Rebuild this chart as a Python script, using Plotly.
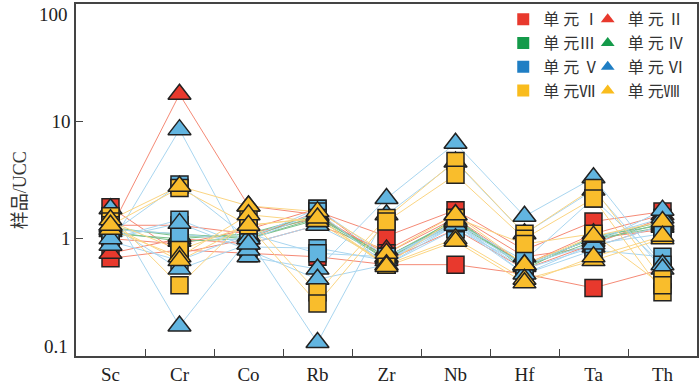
import plotly.graph_objects as go

elements = ['Sc', 'Cr', 'Co', 'Rb', 'Zr', 'Nb', 'Hf', 'Ta', 'Th']
units = ['单 元 Ⅰ', '单 元 Ⅱ', '单 元Ⅲ', '单 元 Ⅳ', '单 元 Ⅴ', '单 元 Ⅵ', '单 元Ⅶ', '单 元Ⅷ']
y_ticks = [0.1, 1, 10, 100]
y_tick_labels = ['0.1', '1', '10', '100']

# sample / UCC, one list per sample, grouped by unit
unit1 = [[1.85, 0.75, 1.0, 1.7, 1.05, 1.75, 0.8, 1.4, 1.7],
         [0.68, 0.8, 0.75, 0.7, 0.6, 0.6, 0.5, 0.38, 0.55],
         [1.3, 1.3, 1.1, 1.5, 0.75, 1.5, 0.6, 1.0, 1.2],
         [1.0, 0.9, 1.2, 1.8, 0.65, 1.2, 0.55, 0.9, 1.5]]
unit2 = [[1.2, 17.0, 1.9, 1.6, 0.7, 1.4, 0.6, 1.1, 1.6],
         [0.75, 1.0, 0.9, 1.3, 0.8, 1.6, 0.7, 0.85, 1.3]]
unit3 = [[1.2, 1.1, 1.0, 1.5, 0.7, 1.4, 0.6, 1.0, 1.4],
         [1.1, 1.0, 1.1, 1.6, 0.65, 1.5, 0.55, 1.05, 1.3]]
unit4 = [[1.25, 1.05, 1.05, 1.55, 0.7, 1.45, 0.58, 0.95, 1.35],
         [1.15, 0.95, 1.0, 1.45, 0.68, 1.35, 0.6, 1.0, 1.25]]
unit5 = [[1.1, 2.9, 1.0, 1.8, 0.7, 1.3, 0.55, 0.85, 1.3],
         [1.0, 1.45, 0.85, 0.83, 0.65, 1.3, 0.5, 0.8, 0.7],
         [1.2, 1.1, 0.95, 1.7, 0.6, 1.2, 0.6, 0.9, 1.1],
         [0.95, 0.65, 1.1, 0.75, 0.7, 1.35, 0.65, 2.2, 0.6]]
unit6 = [[0.88, 8.5, 0.7, 0.55, 2.2, 6.5, 1.55, 3.3, 0.6],
         [1.8, 0.18, 1.0, 0.13, 1.6, 4.5, 1.1, 2.6, 0.55],
         [1.0, 1.35, 0.8, 0.45, 0.6, 1.3, 0.6, 1.0, 1.5],
         [1.3, 0.55, 0.9, 1.3, 0.65, 1.4, 0.5, 0.9, 1.75]]
unit7 = [[1.55, 0.4, 1.5, 0.35, 1.5, 4.6, 1.1, 2.7, 0.45],
         [1.4, 0.8, 1.3, 0.28, 1.4, 3.5, 1.0, 2.2, 0.35],
         [1.3, 2.7, 1.3, 1.5, 0.6, 1.5, 0.9, 1.1, 0.4]]
unit8 = [[1.45, 2.8, 1.9, 1.7, 0.75, 1.6, 0.6, 1.05, 1.4],
         [1.2, 0.7, 1.6, 1.4, 0.6, 1.0, 0.45, 0.65, 1.0],
         [1.3, 0.65, 1.3, 1.5, 0.58, 0.95, 0.42, 0.7, 1.05]]

all_units = [unit1, unit2, unit3, unit4, unit5, unit6, unit7, unit8]
symbols = ['square', 'triangle-up'] * 4
marker_colors = ['#E8392D', '#E8392D', '#1A9A4B', '#1A9A4B',
                 '#62B5E0', '#62B5E0', '#F9BD2C', '#F9BD2C']
legend_colors = ['#E8392D', '#E8392D', '#149A4A', '#149A4A',
                 '#1F7EC4', '#1F7EC4', '#F9BC1D', '#F9BC1D']
line_colors = ['#F58A76', '#F58A76', '#7CC28C', '#7CC28C',
               '#A9D6F0', '#A9D6F0', '#FBD582', '#FBD582']

pos = list(range(len(elements)))

fig = go.Figure()

# thin lines first so every marker sits on top
for i, unit in enumerate(all_units):
    for sample in unit:
        fig.add_trace(go.Scatter(x=pos, y=sample, mode='lines',
                                 line=dict(color=line_colors[i], width=1),
                                 showlegend=False, hoverinfo='skip'))

for i, unit in enumerate(all_units):
    xs, ys = [], []
    for sample in unit:
        xs += pos
        ys += sample
    size = 17 if symbols[i] == 'square' else 20
    fig.add_trace(go.Scatter(x=xs, y=ys, mode='markers', showlegend=False,
                             marker=dict(symbol=symbols[i], size=size,
                                         color=marker_colors[i],
                                         line=dict(color='#222', width=1.5))))

# legend entries, two columns
for i, name in enumerate(units):
    fig.add_trace(go.Scatter(x=[None], y=[None], mode='markers', name=name,
                             legend='legend' if i % 2 == 0 else 'legend2',
                             marker=dict(symbol=symbols[i], size=12,
                                         color=legend_colors[i])))

legend_style = dict(xanchor='left', yanchor='top', y=1.005, bgcolor='rgba(0,0,0,0)',
                    font=dict(family='Liberation Serif, Noto Sans CJK SC', size=16, color='#333'),
                    tracegroupgap=0, itemwidth=30)

tick_font = dict(family='Liberation Serif', size=19, color='#222')

fig.update_layout(
    width=700, height=386,
    margin=dict(l=76, r=3, t=2, b=30),
    plot_bgcolor='white', paper_bgcolor='white',
    legend=dict(x=0.688, **legend_style),
    legend2=dict(x=0.824, **legend_style),
    xaxis=dict(range=[-0.5, 8.5], tickvals=pos, ticktext=elements,
               ticks='', showline=True, mirror=True, linecolor='#444', linewidth=1.5,
               showgrid=False, zeroline=False,
               minor=dict(tickvals=[p + 0.5 for p in pos[:-1]], ticks='inside',
                          ticklen=7, tickcolor='#444', showgrid=False),
               tickfont=tick_font),
    yaxis=dict(type='log', range=[-1.0005, 2.0005], tickvals=y_ticks,
               ticktext=['', y_tick_labels[1], y_tick_labels[2], ''],
               ticks='inside', ticklen=7, tickcolor='#444',
               showline=True, mirror=True, linecolor='#444', linewidth=1.5,
               showgrid=False, zeroline=False, tickfont=tick_font),
    annotations=[
        dict(text='样品/UCC', xref='paper', yref='paper',
             x=-0.11, y=0.47, showarrow=False, textangle=-90,
             font=dict(family='Liberation Serif, Noto Sans CJK SC', size=18, color='#333')),
        # end labels sit inside the axis span, as in the original
        dict(text=y_tick_labels[3], xref='paper', yref='paper', x=0, y=1,
             xanchor='right', yanchor='top', xshift=-6, yshift=2,
             showarrow=False, font=tick_font),
        dict(text=y_tick_labels[0], xref='paper', yref='paper', x=0, y=0,
             xanchor='right', yanchor='bottom', xshift=-6, yshift=-3,
             showarrow=False, font=tick_font),
    ],
)

fig.write_html("out.html", config={'displayModeBar': False},
               post_script="document.body.style.margin='0';")
